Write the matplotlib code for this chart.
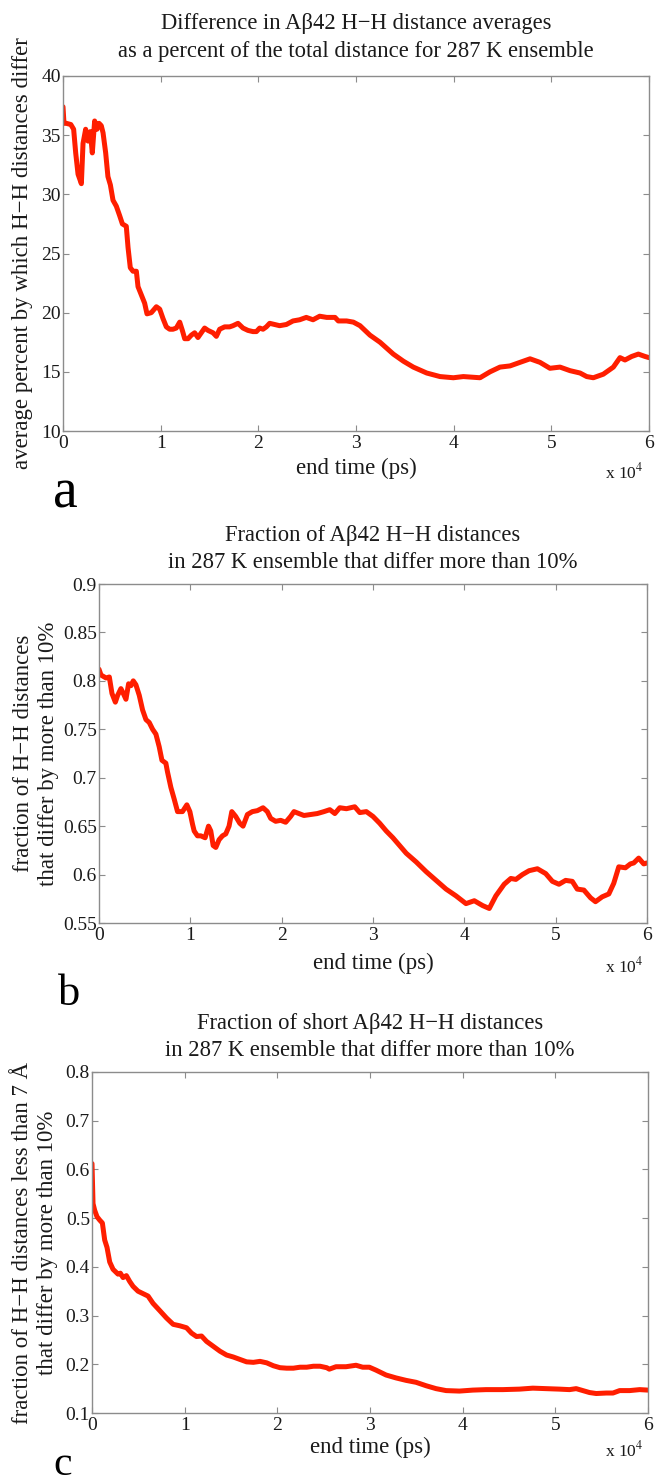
import matplotlib
matplotlib.use("Agg")
import matplotlib.pyplot as plt

W, H = 656, 1483

# ---------------- data (end time in units of 1e4 ps) ----------------
t_a = [0.0, 0.01, 0.034, 0.08, 0.109, 0.13, 0.154, 0.188, 0.205, 0.232, 0.256, 0.28, 0.30,
       0.324, 0.348, 0.369, 0.392, 0.41, 0.437, 0.46, 0.485, 0.512, 0.546, 0.58, 0.608,
       0.648, 0.666, 0.689, 0.717, 0.751, 0.768, 0.802, 0.836, 0.86, 0.904, 0.956, 0.99,
       1.024, 1.058, 1.092, 1.126, 1.16, 1.195, 1.222, 1.246, 1.28, 1.314, 1.348, 1.382,
       1.416, 1.45, 1.485, 1.536, 1.57, 1.604, 1.655, 1.706, 1.741, 1.792, 1.843, 1.894,
       1.945, 1.98, 2.014, 2.048, 2.082, 2.116, 2.167, 2.218, 2.287, 2.355, 2.423, 2.491,
       2.56, 2.628, 2.70, 2.785, 2.819, 2.904, 2.973, 3.041, 3.143, 3.246, 3.314, 3.382,
       3.485, 3.587, 3.724, 3.86, 3.997, 4.099, 4.27, 4.372, 4.474, 4.577, 4.679, 4.782,
       4.884, 4.986, 5.089, 5.191, 5.294, 5.362, 5.43, 5.532, 5.635, 5.703, 5.754, 5.823,
       5.891, 5.959, 6.0]
avg_pct_diff = [37.4, 36.0, 36.0, 35.9, 35.5, 33.5, 31.7, 30.9, 34.3, 35.5, 34.5, 35.3, 33.5,
                36.2, 35.5, 36.0, 35.8, 35.2, 33.5, 31.5, 30.8, 29.5, 29.0, 28.2, 27.5,
                27.3, 25.5, 23.8, 23.5, 23.5, 22.2, 21.5, 20.8, 19.9, 20.0, 20.5, 20.3,
                19.5, 18.8, 18.6, 18.6, 18.7, 19.2, 18.5, 17.8, 17.8, 18.1, 18.3, 17.9,
                18.3, 18.7, 18.5, 18.3, 18.0, 18.6, 18.8, 18.8, 18.9, 19.1, 18.7, 18.5,
                18.4, 18.4, 18.7, 18.6, 18.8, 19.1, 19.0, 18.9, 19.0, 19.3, 19.4, 19.6,
                19.4, 19.7, 19.6, 19.6, 19.3, 19.3, 19.2, 18.9, 18.1, 17.5, 17.0, 16.5,
                15.9, 15.4, 14.9, 14.6, 14.5, 14.6, 14.5, 15.0, 15.4, 15.5, 15.8, 16.1,
                15.8, 15.3, 15.4, 15.1, 14.9, 14.6, 14.5, 14.8, 15.4, 16.2, 16.0, 16.3,
                16.5, 16.3, 16.2]

t_b = [0.0, 0.022, 0.077, 0.113, 0.142, 0.179, 0.204, 0.24, 0.266, 0.295, 0.324, 0.35, 0.375,
       0.404, 0.441, 0.477, 0.514, 0.55, 0.587, 0.623, 0.659, 0.689, 0.732, 0.75, 0.787,
       0.823, 0.86, 0.914, 0.962, 0.995, 1.024, 1.042, 1.078, 1.115, 1.162, 1.199, 1.224,
       1.25, 1.279, 1.315, 1.352, 1.388, 1.424, 1.454, 1.497, 1.541, 1.577, 1.625, 1.679,
       1.734, 1.796, 1.843, 1.88, 1.934, 1.989, 2.044, 2.098, 2.135, 2.189, 2.244, 2.317,
       2.39, 2.463, 2.527, 2.582, 2.636, 2.709, 2.8, 2.855, 2.927, 3.0, 3.073, 3.145,
       3.218, 3.291, 3.364, 3.473, 3.582, 3.691, 3.8, 3.909, 4.018, 4.109, 4.2, 4.273,
       4.345, 4.436, 4.509, 4.564, 4.636, 4.709, 4.8, 4.891, 4.964, 5.036, 5.109, 5.182,
       5.236, 5.309, 5.382, 5.436, 5.509, 5.582, 5.636, 5.691, 5.764, 5.818, 5.855, 5.909,
       5.964, 6.0]
frac_differ = [0.812, 0.806, 0.803, 0.804, 0.787, 0.778, 0.785, 0.792, 0.787, 0.781, 0.797, 0.795,
               0.800, 0.796, 0.785, 0.770, 0.760, 0.757, 0.750, 0.745, 0.732, 0.718, 0.715,
               0.706, 0.690, 0.678, 0.665, 0.665, 0.672, 0.665, 0.652, 0.645, 0.640, 0.640,
               0.638, 0.650, 0.645, 0.630, 0.628, 0.636, 0.640, 0.642, 0.650, 0.665, 0.660,
               0.653, 0.650, 0.662, 0.665, 0.666, 0.669, 0.665, 0.658, 0.655, 0.656, 0.654,
               0.660, 0.665, 0.663, 0.661, 0.662, 0.663, 0.665, 0.667, 0.663, 0.669, 0.668,
               0.670, 0.664, 0.665, 0.660, 0.653, 0.645, 0.638, 0.630, 0.622, 0.613, 0.603,
               0.594, 0.585, 0.578, 0.570, 0.573, 0.568, 0.565, 0.578, 0.590, 0.596, 0.595,
               0.600, 0.604, 0.606, 0.601, 0.593, 0.590, 0.594, 0.593, 0.585, 0.584, 0.576,
               0.572, 0.577, 0.580, 0.591, 0.608, 0.607, 0.611, 0.612, 0.617, 0.611, 0.612]

t_c = [0.0, 0.011, 0.029, 0.054, 0.083, 0.112, 0.137, 0.162, 0.191, 0.227, 0.281, 0.306, 0.335,
       0.371, 0.407, 0.443, 0.497, 0.551, 0.605, 0.659, 0.732, 0.804, 0.876, 0.948, 1.02,
       1.074, 1.128, 1.182, 1.236, 1.308, 1.38, 1.452, 1.524, 1.596, 1.668, 1.741, 1.813,
       1.885, 1.957, 2.029, 2.101, 2.173, 2.245, 2.317, 2.389, 2.461, 2.533, 2.561, 2.633,
       2.741, 2.849, 2.921, 2.993, 3.065, 3.173, 3.281, 3.389, 3.497, 3.605, 3.713, 3.821,
       3.965, 4.109, 4.253, 4.433, 4.613, 4.757, 4.901, 5.045, 5.153, 5.225, 5.297, 5.369,
       5.441, 5.55, 5.622, 5.694, 5.802, 5.91, 6.0]
frac_short_differ = [0.612, 0.53, 0.516, 0.503, 0.496, 0.49, 0.455, 0.44, 0.41, 0.395, 0.385, 0.387,
                     0.378, 0.382, 0.370, 0.36, 0.35, 0.345, 0.34, 0.325, 0.31, 0.295, 0.282,
                     0.279, 0.275, 0.264, 0.257, 0.258, 0.247, 0.237, 0.227, 0.219, 0.215,
                     0.210, 0.205, 0.204, 0.206, 0.203, 0.197, 0.193, 0.192, 0.192, 0.194,
                     0.194, 0.196, 0.196, 0.193, 0.190, 0.195, 0.195, 0.198, 0.194, 0.194,
                     0.188, 0.178, 0.172, 0.167, 0.163, 0.156, 0.150, 0.146, 0.145, 0.147,
                     0.148, 0.148, 0.149, 0.151, 0.150, 0.149, 0.148, 0.150, 0.146, 0.142,
                     0.140, 0.141, 0.141, 0.146, 0.146, 0.148, 0.147]

x_ticks = [0, 1, 2, 3, 4, 5, 6]
x_ticklabels = ["0", "1", "2", "3", "4", "5", "6"]
yticks_a = [10, 15, 20, 25, 30, 35, 40]
yticks_b = [0.55, 0.6, 0.65, 0.7, 0.75, 0.8, 0.85, 0.9]
yticklabels_b = ["0.55", "0.6", "0.65", "0.7", "0.75", "0.8", "0.85", "0.9"]
yticks_c = [0.1, 0.2, 0.3, 0.4, 0.5, 0.6, 0.7, 0.8]
yticklabels_c = ["0.1", "0.2", "0.3", "0.4", "0.5", "0.6", "0.7", "0.8"]

titles_a = ["Difference in A\u03b242 H\u2212H distance averages",
            "as a percent of the total distance for 287 K ensemble"]
titles_b = ["Fraction of A\u03b242 H\u2212H distances",
            "in 287 K ensemble that differ more than 10%"]
titles_c = ["Fraction of short A\u03b242 H\u2212H distances",
            "in 287 K ensemble that differ more than 10%"]
ylabel_a = "average percent by which H\u2212H distances differ"
ylabel_b = "fraction of H\u2212H distances\nthat differ by more than 10%"
ylabel_c = "fraction of H\u2212H distances less than 7 \u00c5\nthat differ by more than 10%"
xlabel = "end time (ps)"

# ---------------- styling ----------------
FAM = ["Liberation Serif", "DejaVu Serif"]
plt.rcParams["font.family"] = FAM
plt.rcParams["mathtext.fontset"] = "stix"
RED = "#ff1e00"
SPINE = "#8c8c8c"
TXT = "#1a1a1a"
TICK_FS = 14
TITLE_FS = 16.3
LAB_FS = 16.5
YLAB_FS = 16.5

fig = plt.figure(figsize=(W / 100, H / 100), dpi=100)


def ftext(xp, yp, s, **kw):
    return fig.text(xp / W, 1 - yp / H, s, **kw)


def make_axes(l, r, t, b):
    return fig.add_axes([l / W, 1 - b / H, (r - l) / W, (b - t) / H])


def style(ax, yt, ytl, ylim):
    ax.set_xlim(0, 6)
    ax.set_ylim(*ylim)
    ax.set_xticks(x_ticks)
    ax.set_xticklabels(x_ticklabels)
    ax.set_yticks(yt)
    ax.set_yticklabels(ytl)
    ax.tick_params(direction="in", top=True, right=True, length=4.5, width=0.8,
                   color=SPINE, labelsize=TICK_FS, labelcolor=TXT)
    ax.tick_params(axis="x", pad=3)
    ax.tick_params(axis="y", pad=1.5)
    for s in ax.spines.values():
        s.set_color(SPINE)
        s.set_linewidth(1.0)


panels = [
    dict(box=(63, 649, 76, 431), t=t_a, v=avg_pct_diff, yt=yticks_a,
         ytl=[str(v) for v in yticks_a], ylim=(10, 40), titles=titles_a, title_y=(24, 52),
         ylabel=ylabel_a, ylab_x=23, xlab_y=468, xexp_y=472, letter="a",
         letter_pos=(53, 507), letter_fs=40),
    dict(box=(99, 647, 584, 923), t=t_b, v=frac_differ, yt=yticks_b, ytl=yticklabels_b,
         ylim=(0.55, 0.9), titles=titles_b, title_y=(535, 563), ylabel=ylabel_b, ylab_x=36,
         xlab_y=963, xexp_y=966, letter="b", letter_pos=(58, 1005), letter_fs=32),
    dict(box=(92, 648, 1072, 1413), t=t_c, v=frac_short_differ, yt=yticks_c, ytl=yticklabels_c,
         ylim=(0.1, 0.8), titles=titles_c, title_y=(1023, 1050), ylabel=ylabel_c, ylab_x=35,
         xlab_y=1447, xexp_y=1450, letter="c", letter_pos=(53, 1475), letter_fs=30),
]

for p in panels:
    l, r, t, b = p["box"]
    ax = make_axes(l, r, t, b)
    ax.plot(p["t"], p["v"], color=RED, lw=3.6, solid_joinstyle="round", solid_capstyle="round")
    style(ax, p["yt"], p["ytl"], p["ylim"])
    cx = (l + r) / 2
    for s, y in zip(p["titles"], p["title_y"]):
        ftext(cx, y, s, ha="center", va="center", fontsize=TITLE_FS, color=TXT)
    ftext(p["ylab_x"], (t + b) / 2, p["ylabel"], ha="center", va="center", rotation=90,
          fontsize=YLAB_FS, color=TXT, linespacing=1.25)
    ftext(cx, p["xlab_y"], xlabel, ha="center", va="center", fontsize=LAB_FS, color=TXT)
    ftext(643, p["xexp_y"], r"x 10$^{4}$", ha="right", va="center", fontsize=12.5, color=TXT)
    lx, ly = p["letter_pos"]
    ftext(lx, ly, p["letter"], ha="left", va="baseline", fontsize=p["letter_fs"], color="black")

fig.savefig("out.png", dpi=100)
